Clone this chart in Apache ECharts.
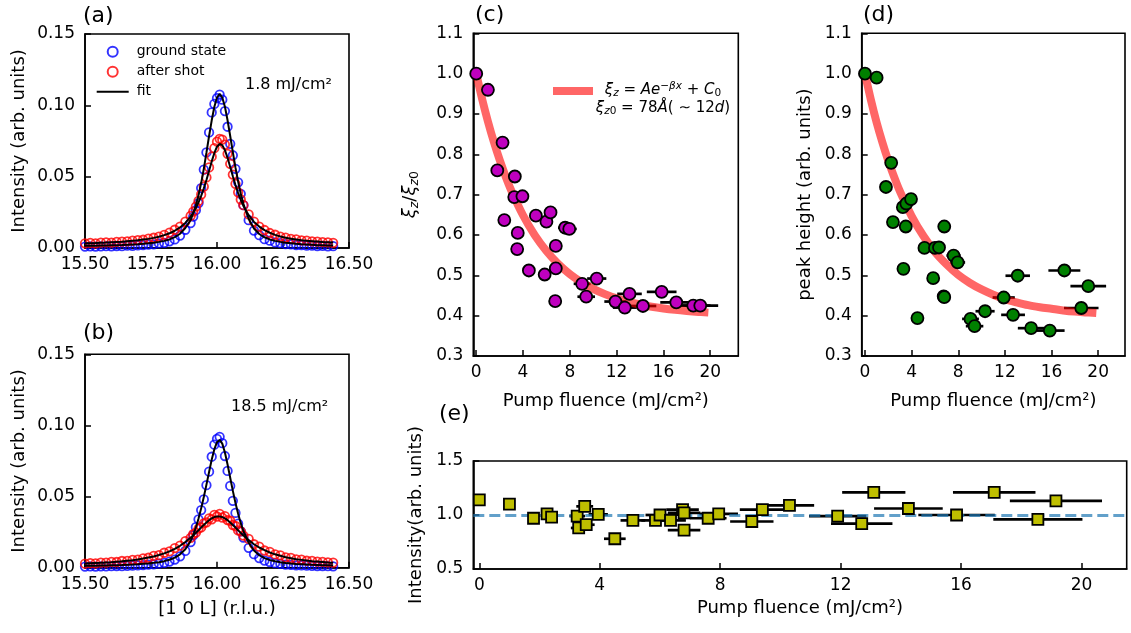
<!DOCTYPE html>
<html><head><meta charset="utf-8">
<script src="https://cdn.jsdelivr.net/npm/echarts@6/dist/echarts.min.js"></script>
<style>html,body{margin:0;padding:0;background:#fff}#chart{width:1131px;height:633px}</style>
</head><body><div id="chart"></div>
<script>
// ---- panels (a),(b): L scans ----
const scanL = [15.50,15.52,15.54,15.56,15.58,15.60,15.62,15.64,15.66,15.68,15.70,15.72,15.74,15.76,15.78,15.80,15.82,15.84,15.86,15.88,15.90,
  15.91,15.92,15.93,15.94,15.95,15.96,15.97,15.98,15.99,16.00,16.01,16.02,16.03,16.04,16.05,16.06,16.07,16.08,16.09,16.10,
  16.12,16.14,16.16,16.18,16.20,16.22,16.24,16.26,16.28,16.30,16.32,16.34,16.36,16.38,16.40,16.42,16.44];
const groundA = [0.0010,0.0012,0.0010,0.0011,0.0013,0.0012,0.0014,0.0013,0.0016,0.0015,0.0019,0.0020,0.0024,0.0026,0.0032,0.0036,0.0047,0.0060,0.0087,0.0128,0.0175,
  0.0220,0.0265,0.0315,0.0420,0.0550,0.0670,0.0810,0.0950,0.1010,0.1050,0.1075,0.1040,0.0960,0.0850,0.0730,0.0650,0.0555,0.0460,0.0380,0.0300,
  0.0195,0.0122,0.0090,0.0062,0.0051,0.0039,0.0034,0.0027,0.0025,0.0020,0.0020,0.0016,0.0017,0.0014,0.0015,0.0012,0.0013];
const shotA = [0.0033,0.0036,0.0033,0.0037,0.0039,0.0038,0.0043,0.0045,0.0046,0.0052,0.0055,0.0058,0.0066,0.0072,0.0080,0.0092,0.0108,0.0128,0.0150,0.0185,0.0225,
  0.0255,0.0290,0.0330,0.0375,0.0430,0.0495,0.0565,0.0640,0.0700,0.0745,0.0765,0.0760,0.0725,0.0660,0.0590,0.0515,0.0450,0.0390,0.0340,0.0300,
  0.0235,0.0185,0.0150,0.0126,0.0105,0.0093,0.0080,0.0073,0.0064,0.0060,0.0053,0.0051,0.0046,0.0044,0.0041,0.0040,0.0036];
const fitGroundA = [0.0015,0.0016,0.0016,0.0017,0.0018,0.0019,0.0020,0.0021,0.0023,0.0025,0.0027,0.0030,0.0033,0.0037,0.0043,0.0050,0.0060,0.0076,0.0100,0.0140,0.0195,
  0.0245,0.0300,0.0370,0.0455,0.0555,0.0668,0.0785,0.0895,0.0990,0.1055,0.1080,0.1055,0.0990,0.0895,0.0785,0.0672,0.0563,0.0466,0.0380,0.0310,
  0.0203,0.0137,0.0098,0.0075,0.0060,0.0050,0.0043,0.0037,0.0033,0.0029,0.0026,0.0024,0.0022,0.0020,0.0019,0.0018,0.0017];
const fitShotA = [0.0033,0.0034,0.0035,0.0037,0.0038,0.0040,0.0042,0.0044,0.0047,0.0050,0.0054,0.0059,0.0064,0.0071,0.0079,0.0090,0.0103,0.0121,0.0144,0.0176,0.0220,
  0.0247,0.0280,0.0320,0.0365,0.0418,0.0477,0.0542,0.0607,0.0666,0.0710,0.0729,0.0721,0.0686,0.0632,0.0568,0.0503,0.0441,0.0385,0.0337,0.0295,
  0.0230,0.0183,0.0150,0.0125,0.0107,0.0092,0.0081,0.0072,0.0065,0.0060,0.0055,0.0051,0.0048,0.0045,0.0042,0.0040,0.0038];
const groundB = [0.0008,0.0009,0.0008,0.0010,0.0009,0.0011,0.0012,0.0011,0.0013,0.0015,0.0016,0.0018,0.0021,0.0024,0.0029,0.0034,0.0043,0.0057,0.0080,0.0118,0.0180,
  0.0228,0.0285,0.0340,0.0405,0.0480,0.0580,0.0675,0.0780,0.0865,0.0905,0.0920,0.0875,0.0785,0.0680,0.0575,0.0470,0.0385,0.0310,0.0255,0.0212,
  0.0140,0.0095,0.0068,0.0050,0.0040,0.0032,0.0027,0.0022,0.0020,0.0017,0.0016,0.0014,0.0013,0.0012,0.0012,0.0011,0.0010];
const shotB = [0.0028,0.0032,0.0031,0.0036,0.0035,0.0041,0.0040,0.0047,0.0048,0.0055,0.0057,0.0066,0.0070,0.0083,0.0088,0.0105,0.0115,0.0138,0.0155,0.0187,0.0210,
  0.0236,0.0246,0.0274,0.0283,0.0312,0.0318,0.0347,0.0340,0.0372,0.0360,0.0378,0.0352,0.0362,0.0335,0.0330,0.0300,0.0293,0.0262,0.0255,0.0226,
  0.0202,0.0165,0.0148,0.0121,0.0111,0.0093,0.0087,0.0073,0.0069,0.0059,0.0057,0.0049,0.0048,0.0042,0.0041,0.0037,0.0036];
const fitGroundB = [0.0013,0.0014,0.0014,0.0015,0.0016,0.0017,0.0018,0.0019,0.0021,0.0022,0.0024,0.0027,0.0030,0.0034,0.0039,0.0046,0.0056,0.0071,0.0094,0.0130,0.0187,
  0.0230,0.0283,0.0345,0.0417,0.0497,0.0584,0.0673,0.0760,0.0833,0.0882,0.0898,0.0872,0.0810,0.0725,0.0632,0.0540,0.0455,0.0379,0.0313,0.0258,
  0.0175,0.0121,0.0088,0.0067,0.0054,0.0045,0.0038,0.0033,0.0029,0.0026,0.0024,0.0022,0.0020,0.0019,0.0018,0.0017,0.0016];
const fitShotB = [0.0029,0.0031,0.0033,0.0034,0.0037,0.0039,0.0042,0.0045,0.0049,0.0053,0.0058,0.0064,0.0071,0.0079,0.0089,0.0101,0.0115,0.0133,0.0154,0.0180,0.0210,
  0.0226,0.0245,0.0263,0.0282,0.0300,0.0318,0.0334,0.0347,0.0356,0.0360,0.0360,0.0356,0.0347,0.0334,0.0318,0.0300,0.0282,0.0263,0.0245,0.0226,
  0.0194,0.0165,0.0142,0.0123,0.0107,0.0094,0.0084,0.0074,0.0067,0.0060,0.0055,0.0050,0.0046,0.0043,0.0040,0.0037,0.0035];

// ---- panels (c),(d),(e): fluence dependence ----
const fluence    = [0, 1.0, 1.8, 2.25, 2.4, 3.25, 3.3, 3.5, 3.55, 3.95, 4.5, 5.1, 5.85, 6.0, 6.35, 6.75, 6.8, 6.8, 7.6, 7.95, 9.05, 9.4, 10.3, 11.9, 12.7, 13.1, 14.25, 15.85, 17.1, 18.55, 19.15];
const fluenceErr = [0, 0.08, 0.14, 0.18, 0.19, 0.26, 0.26, 0.28, 0.28, 0.32, 0.36, 0.41, 0.47, 0.48, 0.51, 0.54, 0.54, 0.54, 0.61, 0.64, 0.72, 0.75, 0.82, 0.95, 1.02, 1.05, 1.14, 1.27, 1.37, 1.48, 1.53];
const xiRatio    = [1.0, 0.96, 0.76, 0.829, 0.637, 0.694, 0.745, 0.565, 0.605, 0.696, 0.512, 0.648, 0.502, 0.633, 0.656, 0.436, 0.573, 0.517, 0.618, 0.615, 0.479, 0.447, 0.492, 0.435, 0.42, 0.454, 0.424, 0.459, 0.433, 0.425, 0.425];
const peakHeight = [1.0, 0.99, 0.719, 0.779, 0.632, 0.669, 0.516, 0.621, 0.678, 0.689, 0.394, 0.568, 0.493, 0.568, 0.569, 0.448, 0.621, 0.446, 0.549, 0.532, 0.392, 0.374, 0.411, 0.445, 0.402, 0.499, 0.369, 0.363, 0.512, 0.419, 0.473];
const intensityE = [1.14, 1.10, 0.97, 1.01, 0.98, 0.99, 0.88, 1.08, 0.91, 1.006, 0.78, 0.95, 0.95, 1.0, 0.95, 1.05, 0.86, 1.02, 0.97, 1.01, 0.94, 1.05, 1.09, 0.99, 0.92, 1.21, 1.06, 1.0, 1.21, 0.96, 1.13];
const fitX    = [0, 0.5, 1, 1.5, 2, 2.5, 3, 4, 5, 6, 7, 8, 9, 10, 11, 12, 13, 14, 15, 16, 17, 18, 19, 19.5];
const fitXi   = [1.0, 0.9375, 0.8815, 0.8313, 0.7864, 0.7461, 0.7101, 0.6489, 0.5997, 0.5603, 0.5286, 0.5032, 0.4829, 0.4665, 0.4533, 0.4428, 0.4344, 0.4276, 0.4221, 0.4178, 0.4143, 0.4115, 0.4092, 0.4082];
const fitPeak = [1.0, 0.936, 0.879, 0.829, 0.784, 0.744, 0.708, 0.647, 0.598, 0.558, 0.527, 0.501, 0.481, 0.465, 0.452, 0.441, 0.433, 0.426, 0.421, 0.417, 0.413, 0.410, 0.408, 0.407];
const refLevel = 1.0;
const fluenceTicks = [0, 4, 8, 12, 16, 20];

const FONT = 'DejaVu Sans';
const pts = (xs, ys) => xs.map((x, i) => [x, ys[i]]);
const errPts = (xs, ys, es) => xs.map((x, i) => [x, ys[i], es[i]]);

function axis(gi, min, max, o) {
  o = o || {};
  const a = {
    type: 'value', gridIndex: gi, min: min, max: max,
    axisLine: { show: true, onZero: false, lineStyle: { color: '#000', width: 1.6 } },
    axisTick: { show: true, inside: true, length: 6, lineStyle: { color: '#000', width: 1.5 } },
    axisLabel: { color: '#000', fontSize: 17, fontFamily: FONT, margin: o.margin || 8, formatter: o.fmt },
    splitLine: { show: false },
    nameLocation: 'middle', name: o.name || '', nameGap: o.gap || 30, nameRotate: o.rot,
    nameTextStyle: Object.assign({ color: '#000', fontSize: 18, fontFamily: FONT }, o.nameStyle || {})
  };
  if (o.interval != null) a.interval = o.interval;
  if (o.custom) { a.axisLabel.customValues = o.custom; a.axisTick.customValues = o.custom; }
  return a;
}
const f2 = v => v.toFixed(2), f1 = v => v.toFixed(1), f0 = v => String(Math.round(v));

function errSeries(k, ys) {
  return {
    type: 'custom', xAxisIndex: k, yAxisIndex: k, data: errPts(fluence, ys, fluenceErr), encode: { x: 0, y: 1 }, z: 2, silent: true,
    renderItem: function (params, api) {
      const x = api.value(0), y = api.value(1), e = api.value(2);
      const a = api.coord([x - e, y]), b = api.coord([x + e, y]);
      return { type: 'line', shape: { x1: a[0], y1: a[1], x2: b[0], y2: b[1] }, style: { stroke: '#000', lineWidth: 2.7 } };
    }
  };
}
function openScatter(k, name, ys, color) {
  return { type: 'scatter', name: name, xAxisIndex: k, yAxisIndex: k, data: pts(scanL, ys), symbol: 'circle', symbolSize: 8.5,
    itemStyle: { color: 'transparent', borderColor: color, borderWidth: 1.8 }, z: 2, silent: true };
}
function fitLine(k, ys) {
  return { type: 'line', name: 'fit', xAxisIndex: k, yAxisIndex: k, data: pts(scanL, ys), symbol: 'none',
    lineStyle: { color: '#000', width: 2 }, itemStyle: { color: '#000' }, z: 3, silent: true };
}
function expFit(k, name, ys) {
  return { type: 'line', name: name, xAxisIndex: k, yAxisIndex: k, data: pts(fitX, ys), symbol: 'none', smooth: 0.3,
    lineStyle: { color: '#ff0000', opacity: 0.6, width: 8, cap: 'square' }, itemStyle: { color: '#ff0000', opacity: 0.6 }, z: 3, silent: true };
}
function filledScatter(k, ys, color, symbol) {
  return { type: 'scatter', xAxisIndex: k, yAxisIndex: k, data: pts(fluence, ys), symbol: symbol, symbolSize: symbol === 'rect' ? 11 : 12,
    itemStyle: { color: color, borderColor: '#000', borderWidth: 1.8, opacity: 1 }, z: 10, silent: true };
}

const gridBase = { show: true, borderColor: '#000', borderWidth: 1.6, backgroundColor: 'transparent', containLabel: false, outerBoundsMode: 'none' };
const richMath = {
  n: { fontFamily: FONT, fontSize: 18, lineHeight: 22, color: '#000', fill: '#000', verticalAlign: 'middle' },
  i: { fontFamily: FONT, fontSize: 18, fontStyle: 'italic', lineHeight: 22, color: '#000', fill: '#000', verticalAlign: 'middle' },
  si: { fontFamily: FONT, fontSize: 12.5, fontStyle: 'italic', lineHeight: 13, color: '#000', fill: '#000', verticalAlign: 'bottom' },
  sn: { fontFamily: FONT, fontSize: 12.5, lineHeight: 13, color: '#000', fill: '#000', verticalAlign: 'bottom' }
};
const richLeg = {
  n: { fontFamily: FONT, fontSize: 15, lineHeight: 18, fill: '#000', color: '#000', verticalAlign: 'middle' },
  i: { fontFamily: FONT, fontSize: 15, fontStyle: 'italic', lineHeight: 18, fill: '#000', color: '#000', verticalAlign: 'middle' },
  si: { fontFamily: FONT, fontSize: 10.5, fontStyle: 'italic', lineHeight: 10, fill: '#000', color: '#000', verticalAlign: 'bottom' },
  sn: { fontFamily: FONT, fontSize: 10.5, lineHeight: 10, fill: '#000', color: '#000', verticalAlign: 'bottom' },
  sp: { fontFamily: FONT, fontSize: 10.5, fontStyle: 'italic', lineHeight: 10, fill: '#000', color: '#000', verticalAlign: 'top' }
};

const option = {
  animation: false,
  backgroundColor: '#fff',
  grid: [
    Object.assign({ left: 85, top: 34, width: 264, height: 214 }, gridBase),
    Object.assign({ left: 85, top: 354.3, width: 264, height: 213.4 }, gridBase),
    Object.assign({ left: 473.3, top: 33.3, width: 265, height: 322.7 }, gridBase),
    Object.assign({ left: 861.7, top: 33.3, width: 263.3, height: 322.7 }, gridBase),
    Object.assign({ left: 473.3, top: 461, width: 653.4, height: 108 }, gridBase)
  ],
  xAxis: [
    axis(0, 15.5, 16.5, { interval: 0.25, fmt: f2 }),
    axis(1, 15.5, 16.5, { interval: 0.25, fmt: f2, name: '[1 0 L] (r.l.u.)', gap: 33 }),
    axis(2, -0.25, 22.4, { custom: fluenceTicks, fmt: f0, name: 'Pump fluence (mJ/cm²)', gap: 36 }),
    axis(3, -0.28, 22.3, { custom: fluenceTicks, fmt: f0, name: 'Pump fluence (mJ/cm²)', gap: 36 }),
    axis(4, -0.2, 21.5, { custom: fluenceTicks, fmt: f0, name: 'Pump fluence (mJ/cm²)', gap: 30 })
  ],
  yAxis: [
    axis(0, 0, 0.15, { interval: 0.05, fmt: f2, name: 'Intensity (arb. units)', gap: 57, rot: 90, margin: 10 }),
    axis(1, 0, 0.15, { interval: 0.05, fmt: f2, name: 'Intensity (arb. units)', gap: 57, rot: 90, margin: 10 }),
    axis(2, 0.3, 1.1, { interval: 0.1, fmt: f1, name: '{i|ξ}{si|z}{n|/}{i|ξ}{si|z}{sn|0}', gap: 52, rot: 90, margin: 10, nameStyle: { rich: richMath } }),
    axis(3, 0.3, 1.1, { interval: 0.1, fmt: f1, name: 'peak height (arb. units)', gap: 47, rot: 90, margin: 10 }),
    axis(4, 0.5, 1.5, { interval: 0.5, fmt: f1, name: 'Intensity(arb. units)', gap: 47, rot: 90, margin: 10 })
  ],
  legend: [
    { data: ['ground state', 'after shot', { name: 'fit', icon: 'path://M0,0L16,0L16,1L0,1Z' }], orient: 'vertical', left: 96.7, top: 44.7, padding: 0, itemGap: 6,
      itemWidth: 32, itemHeight: 10, selectedMode: false,
      textStyle: { color: '#000', fontSize: 14, fontFamily: FONT, padding: [0, 0, 0, 3] } },
    { data: [{ name: 'ξ fit', icon: 'path://M0,0L5,0L5,1L0,1Z' }], left: 553, top: 84, padding: 0, itemWidth: 40, itemHeight: 14, selectedMode: false,
      formatter: function () { return ''; } }
  ],
  series: [
    openScatter(0, 'ground state', groundA, '#0000ff'),
    openScatter(0, 'after shot', shotA, '#ff0000'),
    fitLine(0, fitGroundA),
    fitLine(0, fitShotA),
    openScatter(1, 'ground state', groundB, '#0000ff'),
    openScatter(1, 'after shot', shotB, '#ff0000'),
    fitLine(1, fitGroundB),
    fitLine(1, fitShotB),
    errSeries(2, xiRatio),
    expFit(2, 'ξ fit', fitXi),
    filledScatter(2, xiRatio, '#bf00bf', 'circle'),
    errSeries(3, peakHeight),
    expFit(3, 'peak fit', fitPeak),
    filledScatter(3, peakHeight, '#008000', 'circle'),
    errSeries(4, intensityE),
    { type: 'line', xAxisIndex: 4, yAxisIndex: 4, data: [], silent: true,
      markLine: { silent: true, symbol: 'none', label: { show: false },
        lineStyle: { color: '#1f77b4', opacity: 0.7, width: 3, type: [11, 5] }, data: [{ yAxis: refLevel }] } },
    filledScatter(4, intensityE, '#bfbf00', 'rect')
  ],
  graphic: [
    { type: 'text', x: 83, y: 16, style: { text: '(a)', font: '22px "DejaVu Sans"', fill: '#000', verticalAlign: 'middle' } },
    { type: 'text', x: 83, y: 333, style: { text: '(b)', font: '22px "DejaVu Sans"', fill: '#000', verticalAlign: 'middle' } },
    { type: 'text', x: 475, y: 15, style: { text: '(c)', font: '22px "DejaVu Sans"', fill: '#000', verticalAlign: 'middle' } },
    { type: 'text', x: 863, y: 15, style: { text: '(d)', font: '22px "DejaVu Sans"', fill: '#000', verticalAlign: 'middle' } },
    { type: 'text', x: 439, y: 414, style: { text: '(e)', font: '22px "DejaVu Sans"', fill: '#000', verticalAlign: 'middle' } },
    { type: 'text', x: 245, y: 85, style: { text: '1.8 mJ/cm²', font: '16px "DejaVu Sans"', fill: '#000', verticalAlign: 'middle' } },
    { type: 'text', x: 231, y: 407, style: { text: '18.5 mJ/cm²', font: '16px "DejaVu Sans"', fill: '#000', verticalAlign: 'middle' } },
    { type: 'text', x: 663, y: 99, style: {
        text: '{i|ξ}{si|z}{n| = }{i|Ae}{sp|−βx}{n| + }{i|C}{sn|0}\n{i|ξ}{si|z}{sn|0}{n| = 78}{i|Å}{n|( ∼ 12}{i|d}{n|)}',
        rich: richLeg, align: 'center', verticalAlign: 'middle', fill: '#000' } }
  ]
};
const chart = echarts.init(document.getElementById('chart'), null, { renderer: 'canvas' });
chart.setOption(option);
</script>
</body></html>
